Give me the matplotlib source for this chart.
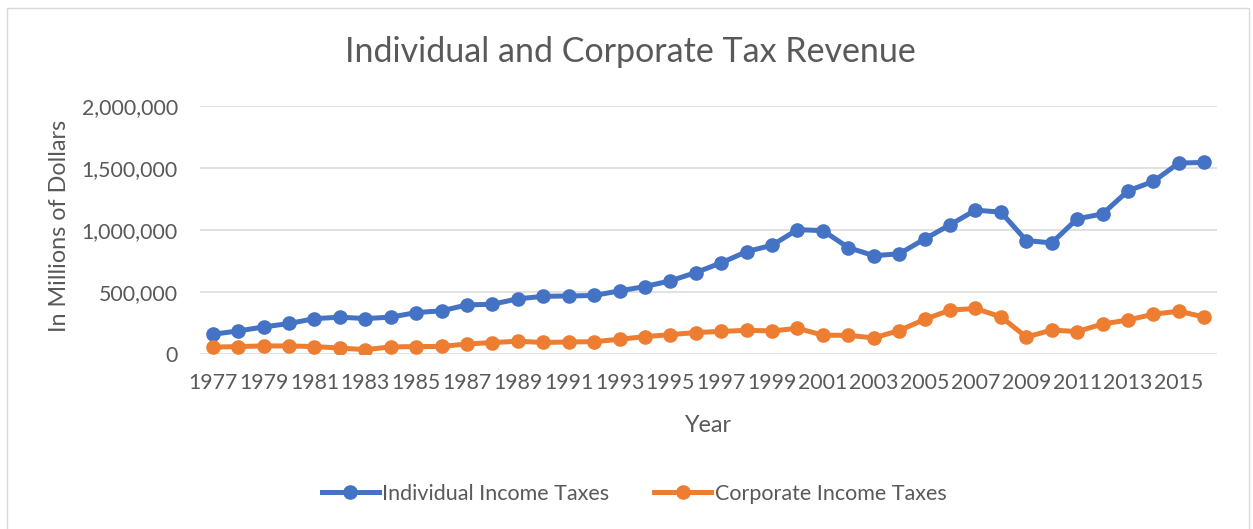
import matplotlib
matplotlib.use("Agg")
import matplotlib.pyplot as plt
from matplotlib.ticker import FuncFormatter
from matplotlib.patches import Rectangle

years = list(range(1977, 2017))
individual = [159000, 186000, 218000, 246000, 285000, 297000, 286000, 297000, 334000, 348000,
              396000, 401000, 445000, 465000, 468000, 472000, 509000, 544000, 590000, 657000,
              735000, 826000, 877000, 1003000, 995000, 858000, 793000, 808000, 927000, 1042000,
              1160000, 1144000, 915000, 896000, 1090000, 1130000, 1316000, 1392000, 1540000, 1545000]
corporate = [55000, 60000, 65000, 65000, 60000, 48000, 35000, 57000, 60000, 61000,
             81000, 92000, 103000, 93000, 97000, 99000, 119000, 140000, 156000, 173000,
             182000, 191000, 186000, 207000, 152000, 150000, 130000, 189000, 279000, 354000,
             367000, 300000, 137000, 193000, 181000, 242000, 274000, 321000, 345000, 298000]
series_names = ["Individual Income Taxes", "Corporate Income Taxes"]
title = "Individual and Corporate Tax Revenue"
xlabel = "Year"
ylabel = "In Millions of Dollars"

FONT = ["Lato", "DejaVu Sans"]
plt.rcParams['font.family'] = FONT
TXT = "#595959"
BLUE = "#4472C4"
ORANGE = "#ED7D31"

W, H = 1253, 529
fig = plt.figure(figsize=(W / 100, H / 100), dpi=100)
fig.patches.append(Rectangle((7 / W, -0.01), (1249 - 7) / W, 1 - 8 / H + 0.01,
                             transform=fig.transFigure, fill=False,
                             edgecolor="#D9D9D9", linewidth=1.0))

ax = fig.add_axes([200 / W, 1 - 354 / H, (1217 - 200) / W, (354 - 106) / H])
x = list(range(len(years)))
ax.plot(x, individual, color=BLUE, lw=3.6, marker="o", ms=9.5, label=series_names[0], zorder=3)
ax.plot(x, corporate, color=ORANGE, lw=3.6, marker="o", ms=9.5, label=series_names[1], zorder=3)

ax.set_xlim(-0.5, len(years) - 0.5)
ax.set_ylim(0, 2000000)
ax.set_yticks([0, 500000, 1000000, 1500000, 2000000])
ax.yaxis.set_major_formatter(FuncFormatter(lambda v, p: f"{int(v):,}"))
ax.set_xticks(x[::2])
ax.set_xticklabels([str(y) for y in years[::2]])
ax.grid(axis="y", color="#D9D9D9", lw=1.1)
ax.set_axisbelow(True)
for s in ax.spines.values():
    s.set_visible(False)
ax.tick_params(axis="both", length=0, colors=TXT, labelsize=15.3)
ax.tick_params(axis="x", pad=14)
ax.tick_params(axis="y", pad=16)

fig.text(630 / W, 1 - 52 / H, title, ha="center", va="center", fontsize=24.5, color=TXT)
fig.text(708 / W, 1 - 426 / H, xlabel, ha="center", va="center", fontsize=16.8, color=TXT)
fig.text(59 / W, 1 - 226 / H, ylabel, ha="center", va="center", rotation=90, fontsize=16.8, color=TXT)

leg = fig.legend(loc="center", bbox_to_anchor=(634 / W, 1 - 494 / H), ncol=2, frameon=False,
                 fontsize=15.5, handlelength=2.65, handletextpad=0.15, columnspacing=2.1,
                 labelcolor=TXT)
for h in leg.legend_handles:
    h.set_markersize(9.5)

fig.savefig("out.png", dpi=100)
